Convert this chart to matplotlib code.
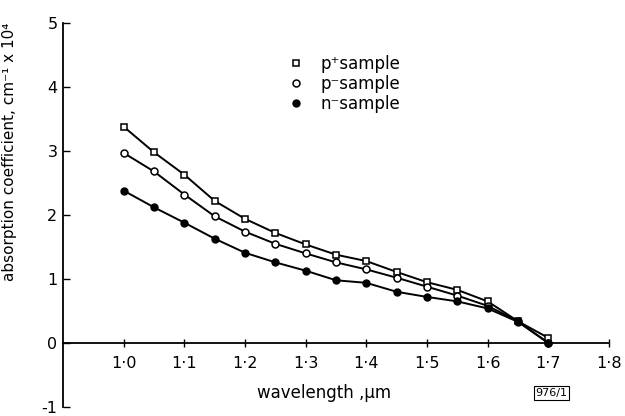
import matplotlib.pyplot as plt
from matplotlib.lines import Line2D

# --- Data ---
wavelength = [1.0, 1.05, 1.1, 1.15, 1.2, 1.25, 1.3, 1.35, 1.4, 1.45, 1.5, 1.55, 1.6, 1.65, 1.7]
p_plus = [3.38, 2.98, 2.63, 2.22, 1.94, 1.72, 1.54, 1.38, 1.28, 1.11, 0.95, 0.83, 0.65, 0.34, 0.08]
p_minus = [2.97, 2.68, 2.32, 1.98, 1.74, 1.55, 1.40, 1.26, 1.15, 1.02, 0.88, 0.74, 0.58, 0.34, 0.0]
n_minus = [2.38, 2.12, 1.88, 1.63, 1.41, 1.26, 1.13, 0.98, 0.94, 0.80, 0.72, 0.65, 0.54, 0.33, 0.0]

xticks = [1.0, 1.1, 1.2, 1.3, 1.4, 1.5, 1.6, 1.7, 1.8]
xticklabels = ['1·0', '1·1', '1·2', '1·3', '1·4', '1·5', '1·6', '1·7', '1·8']
yticks = [-1, 0, 1, 2, 3, 4, 5]
yticklabels = ['-1', '0', '1', '2', '3', '4', '5']

plt.rcParams['font.family'] = ['DejaVu Sans']

fig = plt.figure(figsize=(6.25, 4.16), dpi=100)
ax = fig.add_axes([63 / 625, 1 - 407 / 416, (609 - 63) / 625, (407 - 23) / 416])

lw = 1.4
ax.plot(wavelength, p_plus, color='black', lw=lw, marker='s', ms=4.5,
        mfc='white', mec='black', mew=1.1)
ax.plot(wavelength, p_minus, color='black', lw=lw, marker='o', ms=5,
        mfc='white', mec='black', mew=1.1)
ax.plot(wavelength, n_minus, color='black', lw=lw, marker='o', ms=5,
        mfc='black', mec='black')

ax.set_xlim(0.9, 1.8)
ax.set_ylim(-1, 5)

# --- Axes styling ---
ax.spines['top'].set_visible(False)
ax.spines['right'].set_visible(False)
ax.spines['bottom'].set_position(('data', 0))
ax.spines['left'].set_linewidth(1.3)
ax.spines['bottom'].set_linewidth(1.3)

ax.set_xticks(xticks)
ax.set_xticklabels(xticklabels, fontsize=11.5)
ax.set_yticks(yticks)
ax.set_yticklabels(yticklabels, fontsize=11.5)
ax.tick_params(axis='x', direction='inout', length=6, width=1, pad=6)
ax.tick_params(axis='y', direction='in', length=5, width=1, pad=4)

ax.set_ylabel('absorption coefficient, cm⁻¹ x 10⁴', fontsize=11)
ax.yaxis.set_label_coords(-0.085, 0.665)
ax.text(1.33, -0.78, 'wavelength ,µm', fontsize=12, ha='center', va='center')
ax.text(1.705, -0.78, '976/1', fontsize=8, ha='center', va='center',
        bbox=dict(boxstyle='square,pad=0.15', fc='white', ec='black', lw=0.8))

# --- Legend ---
handles = [
    Line2D([], [], ls='none', marker='s', ms=4.5, mfc='white', mec='black', mew=1.1),
    Line2D([], [], ls='none', marker='o', ms=5, mfc='white', mec='black', mew=1.1),
    Line2D([], [], ls='none', marker='o', ms=5, mfc='black', mec='black'),
]
labels = ['p⁺sample', 'p⁻sample', 'n⁻sample']
fig.legend(handles, labels, loc='upper left', bbox_to_anchor=(276 / 625, 1 - 43 / 416),
           frameon=False, fontsize=12, handlelength=1.0, handletextpad=1.0,
           labelspacing=0.12, borderpad=0.2)

plt.savefig('out.png', dpi=100)
plt.close()
